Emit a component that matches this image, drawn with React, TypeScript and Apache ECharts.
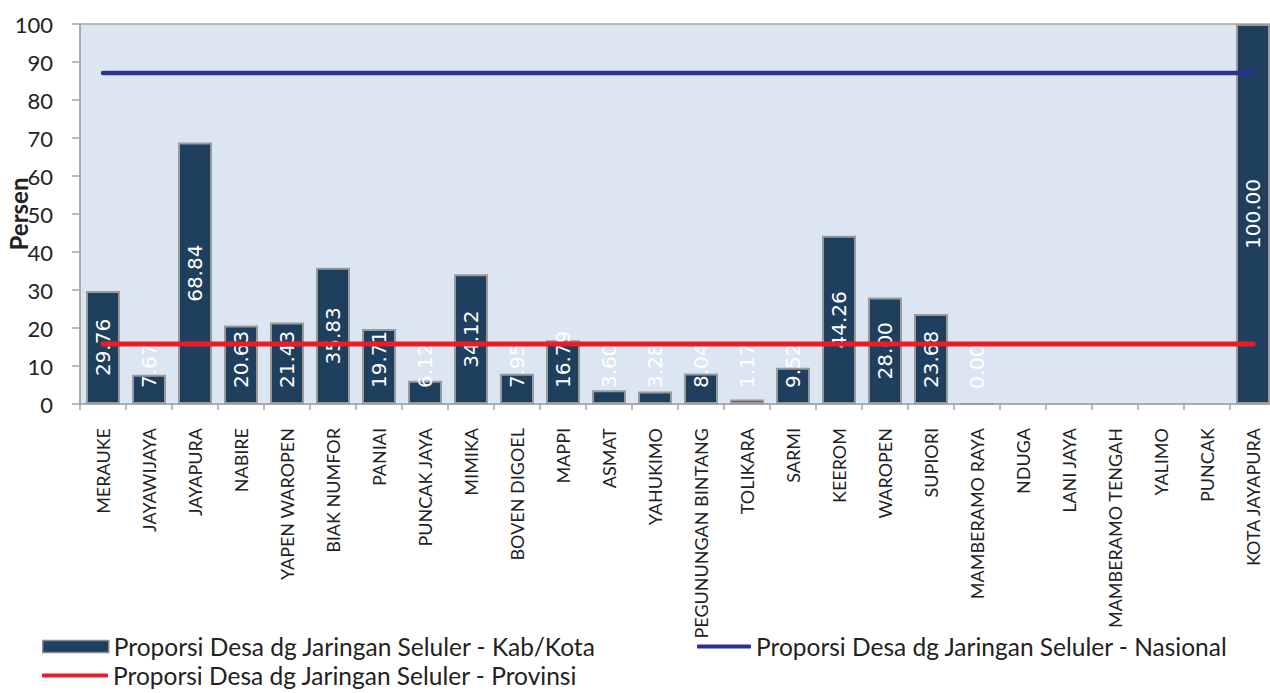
import React, { useEffect, useRef } from "react";
import * as echarts from "echarts";

const categories = [
  "MERAUKE", "JAYAWIJAYA", "JAYAPURA", "NABIRE", "YAPEN WAROPEN", "BIAK NUMFOR",
  "PANIAI", "PUNCAK JAYA", "MIMIKA", "BOVEN DIGOEL", "MAPPI", "ASMAT", "YAHUKIMO",
  "PEGUNUNGAN BINTANG", "TOLIKARA", "SARMI", "KEEROM", "WAROPEN", "SUPIORI",
  "MAMBERAMO RAYA", "NDUGA", "LANI JAYA", "MAMBERAMO TENGAH", "YALIMO", "PUNCAK",
  "KOTA JAYAPURA",
];

const kabKota: (number | null)[] = [
  29.76, 7.67, 68.84, 20.63, 21.43, 35.83, 19.71, 6.12, 34.12, 7.95, 16.79, 3.6,
  3.28, 8.04, 1.17, 9.52, 44.26, 28.0, 23.68, 0.0, null, null, null, null, null, 100.0,
];

const nasional = [
  87.1, 87.1, 87.1, 87.1, 87.1, 87.1, 87.1, 87.1, 87.1, 87.1, 87.1, 87.1, 87.1,
  87.1, 87.1, 87.1, 87.1, 87.1, 87.1, 87.1, 87.1, 87.1, 87.1, 87.1, 87.1, 87.1,
];

const provinsi = [
  15.8, 15.8, 15.8, 15.8, 15.8, 15.8, 15.8, 15.8, 15.8, 15.8, 15.8, 15.8, 15.8,
  15.8, 15.8, 15.8, 15.8, 15.8, 15.8, 15.8, 15.8, 15.8, 15.8, 15.8, 15.8, 15.8,
];

const yTicks = [0, 10, 20, 30, 40, 50, 60, 70, 80, 90, 100];

const Y_NAME = "Persen";
const S_BAR = "Proporsi Desa dg Jaringan Seluler - Kab/Kota";
const S_NAS = "Proporsi Desa dg Jaringan Seluler - Nasional";
const S_PROV = "Proporsi Desa dg Jaringan Seluler - Provinsi";

const FONT = "Lato";
const LABEL_FONT = "DejaVu Sans";

export default function App() {
  const ref = useRef<HTMLDivElement>(null);
  useEffect(() => {
    if (!ref.current) return;
    const chart = echarts.init(ref.current, undefined, { renderer: "svg" });
    const barData = kabKota.map((v) => {
      if (v === null) return { value: null };
      const centered = v >= 24;
      return {
        value: v,
        label: centered
          ? { position: "inside", align: "center", verticalAlign: "middle" }
          : { position: "insideBottom", align: "left", verticalAlign: "middle", distance: 16 },
      };
    });
    const legendText = { fontFamily: FONT, fontSize: 24.5, color: "#222" };
    chart.setOption({
      animation: false,
      graphic: [
        {
          type: "text",
          x: 18,
          y: 214,
          rotation: Math.PI / 2,
          style: {
            text: Y_NAME,
            fontFamily: FONT,
            fontSize: 24,
            fontWeight: "bold",
            fill: "#222",
            align: "center",
            verticalAlign: "middle",
          },
        },
      ],
      grid: {
        left: 80,
        top: 24,
        right: -6,
        bottom: 289,
        show: true,
        backgroundColor: "#dce6f2",
        borderColor: "#a6a6a6",
        borderWidth: 1.5,
        containLabel: false,
        outerBoundsMode: "none",
      },
      legend: [
        {
          left: 42,
          top: 634,
          padding: 0,
          data: [S_BAR],
          itemWidth: 66,
          itemHeight: 12,
          itemGap: 5,
          icon: "rect",
          itemStyle: { borderColor: "#8c8c8c", borderWidth: 1.5 },
          textStyle: legendText,
        },
        {
          left: 697,
          top: 634,
          padding: 0,
          data: [S_NAS],
          itemWidth: 54,
          itemHeight: 4,
          icon: "roundRect",
          textStyle: legendText,
        },
        {
          left: 42,
          top: 663,
          padding: 0,
          data: [S_PROV],
          itemWidth: 66,
          itemHeight: 4,
          icon: "roundRect",
          textStyle: legendText,
        },
      ],
      xAxis: {
        type: "category",
        data: categories,
        axisLine: { show: true, lineStyle: { color: "#a6a6a6", width: 1.5 } },
        axisTick: { show: true, length: 6, lineStyle: { color: "#a6a6a6", width: 1.5 } },
        axisLabel: {
          rotate: 90,
          interval: 0,
          margin: 24,
          fontFamily: FONT,
          fontSize: 18,
          color: "#222",
        },
      },
      yAxis: {
        type: "value",
        min: 0,
        max: 100,
        interval: 10,
        splitLine: { show: false },
        axisLine: { show: true, lineStyle: { color: "#a6a6a6", width: 1.5 } },
        axisTick: { show: true, inside: false, length: 8, lineStyle: { color: "#a6a6a6", width: 1.5 } },
        axisLabel: {
          margin: 27,
          fontFamily: FONT,
          fontSize: 22,
          color: "#222",
          formatter: (v: number) => (yTicks.includes(v) ? String(v) : ""),
        },
      },
      series: [
        {
          name: S_BAR,
          type: "bar",
          data: barData,
          barWidth: 34,
          z: 2,
          itemStyle: { color: "#1f3f5f", borderColor: "#9a9a9a", borderWidth: 2 },
          label: {
            show: true,
            rotate: 90,
            color: "#ffffff",
            fontFamily: LABEL_FONT,
            fontSize: 20,
            formatter: (p: any) => Number(p.value).toFixed(2),
          },
        },
        {
          name: S_NAS,
          type: "line",
          data: nasional,
          z: 5,
          symbol: "none",
          itemStyle: { color: "#2e3192" },
          lineStyle: { color: "#2e3192", width: 4.5, cap: "round" },
        },
        {
          name: S_PROV,
          type: "line",
          data: provinsi,
          z: 5,
          symbol: "none",
          itemStyle: { color: "#ed1c24" },
          lineStyle: { color: "#ed1c24", width: 5, cap: "round" },
        },
      ],
    });
    return () => chart.dispose();
  }, []);
  return <div ref={ref} style={{ width: 1270, height: 693, position: "absolute", left: 0, top: 0 }} />;
}
